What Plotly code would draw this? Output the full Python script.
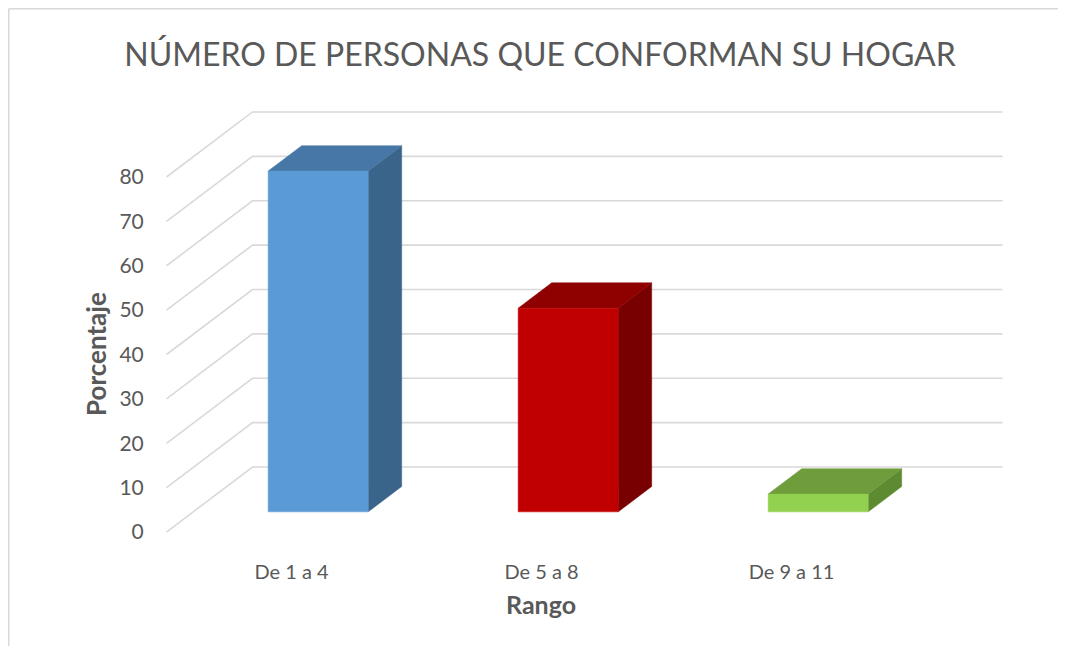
import plotly.graph_objects as go

# data
categories = ["De 1 a 4", "De 5 a 8", "De 9 a 11"]
values = [76.8, 45.9, 4.0]
tick_vals = [0, 10, 20, 30, 40, 50, 60, 70, 80]

front_colors = ["#5B9BD5", "#C00000", "#92D050"]
top_colors = ["#4677A6", "#8F0000", "#6F9D3B"]
side_colors = ["#3A6489", "#780000", "#5E8A31"]

# fake 3d projection (oblique): depth d in [0, 1]
DX = 0.344   # depth shift along x, category units
DY = 14.65   # depth shift along y, value units
D0, D1 = 0.31, 0.70   # bar front / back depth
HALF_W = 0.2
C_LEFT, C_RIGHT = -0.5, 2.5

# page body has an 8px margin on every side, keep the figure inside the window
OFF = 8
W, H = 1066 - 2 * OFF, 654 - 2 * OFF
L, T = 166 - OFF, 100 - OFF
R = W - (1003 - OFF)
B = H - (548 - OFF)
X_RANGE = [-0.502, 2.846]
Y_RANGE = [-3.6, 97.35]


def proj(c, v, d):
    return c + d * DX, v + d * DY


def px_x(px):
    return (px - OFF - L) / (W - L - R)


def px_y(py):
    return (H - B - (py - OFF)) / (H - T - B)


fig = go.Figure()

# walls: left side wall diagonals + back wall horizontals
gx, gy = [], []
for v in tick_vals:
    x0, y0 = proj(C_LEFT, v, 0)
    x1, y1 = proj(C_LEFT, v, 1)
    x2, y2 = proj(C_RIGHT, v, 1)
    gx += [x0, x1, x2, None]
    gy += [y0, y1, y2, None]
fig.add_trace(go.Scatter(x=gx, y=gy, mode="lines", line=dict(color="#D9D9D9", width=1.6),
                         hoverinfo="skip", showlegend=False))


def face(pts, color):
    xs = [p[0] for p in pts] + [pts[0][0]]
    ys = [p[1] for p in pts] + [pts[0][1]]
    fig.add_trace(go.Scatter(x=xs, y=ys, mode="lines", fill="toself", fillcolor=color,
                             line=dict(color=color, width=0.5), hoverinfo="skip",
                             showlegend=False))


for i, (cat, val) in enumerate(zip(categories, values)):
    cl, cr = i - HALF_W, i + HALF_W
    # side face
    face([proj(cr, 0, D0), proj(cr, 0, D1), proj(cr, val, D1), proj(cr, val, D0)], side_colors[i])
    # top face
    face([proj(cl, val, D0), proj(cr, val, D0), proj(cr, val, D1), proj(cl, val, D1)], top_colors[i])
    # front face
    face([proj(cl, 0, D0), proj(cr, 0, D0), proj(cr, val, D0), proj(cl, val, D0)], front_colors[i])

fig.update_layout(
    width=W, height=H,
    margin=dict(l=L, r=R, t=T, b=B),
    paper_bgcolor="white", plot_bgcolor="white",
    font=dict(family="Lato", color="#595959"),
    title=dict(text="NÚMERO DE PERSONAS QUE CONFORMAN SU HOGAR", x=(540 - OFF) / W,
               xanchor="center", y=1 - (55 - OFF) / H, yanchor="middle",
               font=dict(size=32, color="#595959")),
    showlegend=False,
)
fig.update_xaxes(range=X_RANGE, tickvals=[0, 1, 2], ticktext=categories, showgrid=False,
                 zeroline=False, showline=False, ticks="outside", ticklen=6,
                 tickcolor="rgba(0,0,0,0)", tickfont=dict(size=20, color="#595959"),
                 fixedrange=True)
fig.update_yaxes(range=Y_RANGE, tickvals=tick_vals, showgrid=False, zeroline=False,
                 showline=False, ticks="outside", ticklen=17, tickcolor="rgba(0,0,0,0)",
                 tickfont=dict(size=21, color="#595959"), fixedrange=True)

fig.add_annotation(text="<b>Porcentaje</b>", xref="paper", yref="paper", x=px_x(96), y=px_y(354),
                   xanchor="center", yanchor="middle", textangle=-90, showarrow=False,
                   font=dict(size=26, color="#595959"))
fig.add_annotation(text="<b>Rango</b>", xref="paper", yref="paper", x=px_x(541), y=px_y(604),
                   xanchor="center", yanchor="middle", showarrow=False,
                   font=dict(size=25, color="#595959"))

# chart border: only the top and left edges are inside the picture
edge = dict(color="#D9D9D9", width=1.5)
fig.add_shape(type="line", xref="paper", yref="paper", x0=px_x(OFF + 0.75), y0=px_y(OFF + 0.75),
              x1=px_x(1066 - OFF), y1=px_y(OFF + 0.75), line=edge, layer="below")
fig.add_shape(type="line", xref="paper", yref="paper", x0=px_x(OFF + 0.75), y0=px_y(OFF + 0.75),
              x1=px_x(OFF + 0.75), y1=px_y(654 - OFF), line=edge, layer="below")

fig.write_html("out.html")
